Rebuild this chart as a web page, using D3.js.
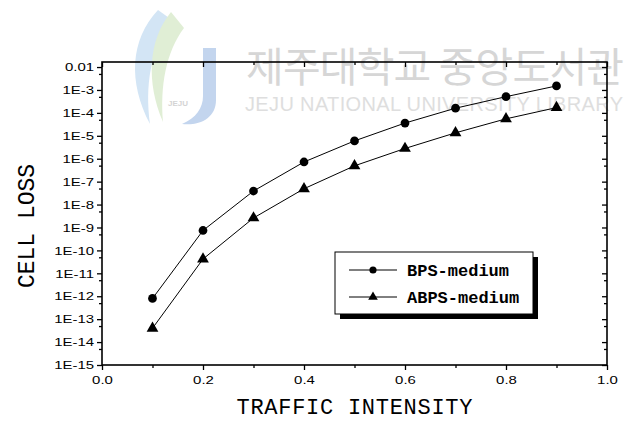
<!DOCTYPE html>
<html>
<head>
<meta charset="utf-8">
<script src="https://cdn.jsdelivr.net/npm/d3@7"></script>
<style>
  body { margin: 0; background: #fff; }
  svg { display: block; }
</style>
</head>
<body>
<div id="chart"></div>
<script>
var width = 627,
    height = 421;

// data
var traffic = [0.1, 0.2, 0.3, 0.4, 0.5, 0.6, 0.7, 0.8, 0.9];
var bpsMedium = [8e-13, 7.4e-10, 3.9e-8, 7.2e-7, 6e-6, 3.6e-5, 1.6e-4, 5.1e-4, 1.5e-3];
var abpsMedium = [4e-14, 4.2e-11, 2.6e-9, 4.9e-8, 4.9e-7, 2.8e-6, 1.35e-5, 5.5e-5, 1.7e-4];
var seriesNames = ['BPS-medium', 'ABPS-medium'];
var xTicks = [0, 0.2, 0.4, 0.6, 0.8, 1.0];
var xMinor = [0.1, 0.3, 0.5, 0.7, 0.9];
var yTicks = [1e-15, 1e-14, 1e-13, 1e-12, 1e-11, 1e-10, 1e-9, 1e-8, 1e-7, 1e-6, 1e-5, 1e-4, 1e-3, 1e-2];
var yTickLabels = ['1E-15', '1E-14', '1E-13', '1E-12', '1E-11', '1E-10', '1E-9', '1E-8', '1E-7', '1E-6', '1E-5', '1E-4', '1E-3', '0.01'];
var yMinor = [5e-15, 5e-14, 5e-13, 5e-12, 5e-11, 5e-10, 5e-9, 5e-8, 5e-7, 5e-6, 5e-5, 5e-4, 5e-3];

// plot frame (window.top is reserved, so prefixed names)
var pLeft = 102, pRight = 607, pTop = 62, pBottom = 365;
var stretch = 1.3; // tick labels in the scan are a bit wide

var svg = d3.select('#chart')
    .append('svg')
    .attr('width', width)
    .attr('height', height);

// faint library watermark behind the plot
var wm = svg.append('g').attr('class', 'watermark');
wm.append('path')
    .attr('d', 'M158,10 C130,40 128,82 150,124 C145,86 150,50 172,20 Z')
    .attr('fill', '#d3e5f5');
wm.append('path')
    .attr('d', 'M171,12 C148,40 146,82 163,122 C160,86 166,52 184,28 Z')
    .attr('fill', '#e0eed5');
wm.append('path')
    .attr('d', 'M203,48 L216,48 L216,100 C216,118 200,126 182,124 C196,118 203,108 203,96 Z')
    .attr('fill', '#c3d5ee');
wm.append('text')
    .attr('x', 178).attr('y', 106)
    .attr('text-anchor', 'middle')
    .attr('font-family', 'Liberation Sans, Arial, sans-serif')
    .attr('font-size', 8).attr('font-weight', 'bold')
    .attr('fill', '#d4d4d4')
    .text('JEJU');
wm.append('text')
    .attr('x', 246).attr('y', 82)
    .attr('font-family', '"Noto Sans CJK KR", sans-serif')
    .attr('font-size', 41)
    .attr('fill', '#d6d6d6')
    .attr('textLength', 378)
    .text('제주대학교 중앙도서관');
wm.append('text')
    .attr('x', 245).attr('y', 111)
    .attr('font-family', '"Liberation Sans", Arial, sans-serif')
    .attr('font-size', 20)
    .attr('fill', '#dedede')
    .attr('textLength', 378)
    .text('JEJU NATIONAL UNIVERSITY LIBRARY');

var x = d3.scaleLinear().domain([0, 1]).range([pLeft, pRight]);
var y = d3.scaleLog().domain([1e-15, Math.pow(10, -1.78)]).range([pBottom, pTop]);

var tickFont = '"Liberation Sans", Arial, sans-serif';

// bottom axis (ticks outward)
var bottomAxis = svg.append('g')
    .attr('transform', 'translate(0,' + pBottom + ')')
    .call(d3.axisBottom(x).tickValues(xTicks).tickSize(5).tickPadding(6)
        .tickFormat(d3.format('.1f')));
bottomAxis.append('g')
    .call(d3.axisBottom(x).tickValues(xMinor).tickSize(3).tickFormat(''));

// top axis (ticks inward)
var topAxis = svg.append('g')
    .attr('transform', 'translate(0,' + pTop + ')')
    .call(d3.axisBottom(x).tickValues(xTicks).tickSize(5).tickFormat(''));
topAxis.append('g')
    .call(d3.axisBottom(x).tickValues(xMinor).tickSize(3).tickFormat(''));

// left axis (ticks outward)
var leftAxis = svg.append('g')
    .attr('transform', 'translate(' + pLeft + ',0)')
    .call(d3.axisLeft(y).tickValues(yTicks).tickSize(5).tickPadding(3)
        .tickFormat((d, i) => yTickLabels[i]));
leftAxis.append('g')
    .call(d3.axisLeft(y).tickValues(yMinor).tickSize(3).tickFormat(''));

// right axis (ticks inward)
var rightAxis = svg.append('g')
    .attr('transform', 'translate(' + pRight + ',0)')
    .call(d3.axisLeft(y).tickValues(yTicks).tickSize(5).tickFormat(''));
rightAxis.append('g')
    .call(d3.axisLeft(y).tickValues(yMinor).tickSize(3).tickFormat(''));

svg.selectAll('.domain').remove();
svg.selectAll('.tick line').attr('stroke', '#000').attr('stroke-width', 1.3);
svg.selectAll('.tick text')
    .attr('fill', '#000')
    .attr('font-family', tickFont)
    .attr('font-size', 11.5)
    .attr('x', function() { return +d3.select(this).attr('x') / stretch; })
    .attr('transform', 'scale(' + stretch + ',1)');

svg.append('rect')
    .attr('x', pLeft).attr('y', pTop)
    .attr('width', pRight - pLeft).attr('height', pBottom - pTop)
    .attr('fill', 'none')
    .attr('stroke', '#000')
    .attr('stroke-width', 1.6);

// series
var line = d3.line()
    .x(d => x(d[0]))
    .y(d => y(d[1]));

var series = [
    { name: seriesNames[0], values: traffic.map((t, i) => [t, bpsMedium[i]]), symbol: d3.symbolCircle, size: 60 },
    { name: seriesNames[1], values: traffic.map((t, i) => [t, abpsMedium[i]]), symbol: d3.symbolTriangle, size: 60 }
];

series.forEach(s => {
    svg.append('path')
        .datum(s.values)
        .attr('fill', 'none')
        .attr('stroke', '#000')
        .attr('stroke-width', 1)
        .attr('d', line);

    svg.selectAll(null)
        .data(s.values)
        .enter()
        .append('path')
        .attr('transform', d => 'translate(' + x(d[0]) + ',' + y(d[1]) + ')')
        .attr('d', d3.symbol().type(s.symbol).size(s.size))
        .attr('fill', '#000');
});

// legend with drop shadow
var lg = svg.append('g').attr('transform', 'translate(335,252)');
lg.append('rect')
    .attr('x', 5).attr('y', 5)
    .attr('width', 198).attr('height', 62)
    .attr('fill', '#000');
lg.append('rect')
    .attr('width', 198).attr('height', 62)
    .attr('fill', '#fff')
    .attr('stroke', '#000')
    .attr('stroke-width', 1);

series.forEach((s, i) => {
    var ly = 18 + i * 27;
    lg.append('line')
        .attr('x1', 14).attr('x2', 62)
        .attr('y1', ly).attr('y2', ly)
        .attr('stroke', '#000').attr('stroke-width', 1);
    lg.append('path')
        .attr('transform', 'translate(38,' + ly + ')')
        .attr('d', d3.symbol().type(s.symbol).size(40))
        .attr('fill', '#000');
    lg.append('text')
        .attr('x', 72).attr('y', ly + 6)
        .attr('font-family', '"Liberation Mono", "DejaVu Sans Mono", monospace')
        .attr('font-size', 17)
        .attr('font-weight', 'bold')
        .attr('fill', '#000')
        .text(s.name);
});

// axis titles
svg.append('text')
    .attr('x', (pLeft + pRight) / 2).attr('y', 414)
    .attr('text-anchor', 'middle')
    .attr('font-family', '"Liberation Mono", "Courier New", monospace')
    .attr('font-size', 22)
    .attr('fill', '#000')
    .attr('textLength', 236)
    .text('TRAFFIC INTENSITY');

svg.append('text')
    .attr('transform', 'translate(34,226)rotate(-90)')
    .attr('text-anchor', 'middle')
    .attr('font-family', '"Liberation Mono", "Courier New", monospace')
    .attr('font-size', 23)
    .attr('fill', '#000')
    .text('CELL LOSS');
</script>
</body>
</html>
